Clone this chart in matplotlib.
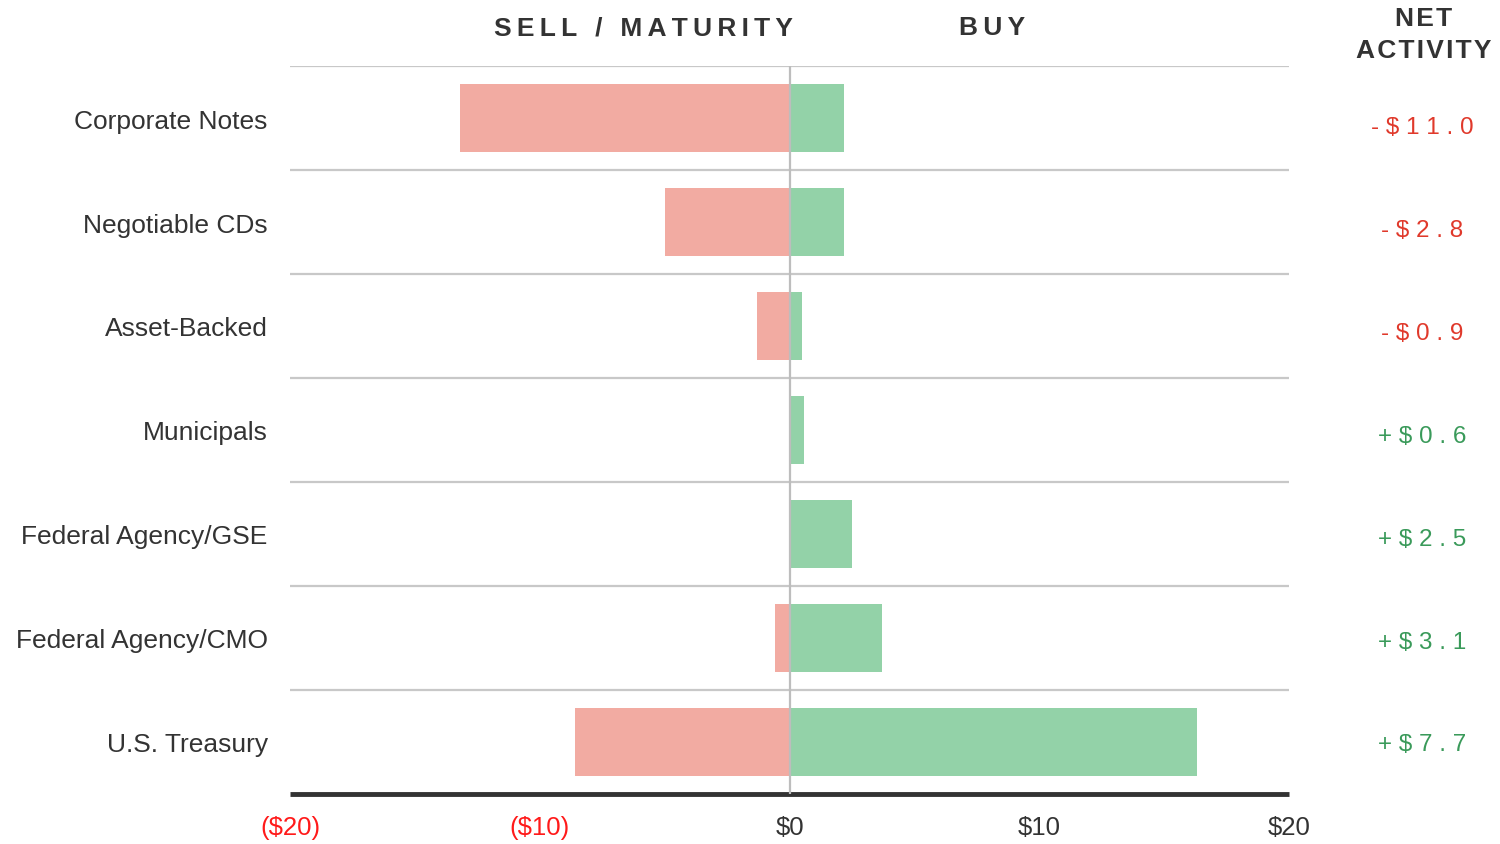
import matplotlib.pyplot as plt
import numpy as np

plt.rcParams['font.family'] = ['Liberation Sans', 'DejaVu Sans']

categories = ["Corporate Notes", "Negotiable CDs", "Asset-Backed", "Municipals",
              "Federal Agency/GSE", "Federal Agency/CMO", "U.S. Treasury"]
sell = [-13.2, -5.0, -1.3, 0.0, 0.0, -0.6, -8.6]
buy = [2.2, 2.2, 0.5, 0.6, 2.5, 3.7, 16.3]
net = ["-$11.0", "-$2.8", "-$0.9", "+$0.6", "+$2.5", "+$3.1", "+$7.7"]
ticks = [-20, -10, 0, 10, 20]
tick_labels = ["($20)", "($10)", "$0", "$10", "$20"]

sell_color = "#f2aba2"
buy_color = "#93d2a8"
red = "#e0392b"
green = "#3a9a5a"
dark = "#333333"


def spaced(s, sep="\u2009"):
    return sep.join(list(s))


fig = plt.figure(figsize=(15, 8.45), dpi=100)
ax = fig.add_axes([290 / 1500, 1 - 795 / 845, 999 / 1500, 728 / 845])

y = np.arange(len(categories))
ax.barh(y, sell, height=0.66, color=sell_color, zorder=2)
ax.barh(y, buy, height=0.66, color=buy_color, zorder=2)

ax.set_xlim(-20, 20)
ax.set_ylim(len(categories) - 0.5, -0.5)

# row separators
for b in np.arange(-0.5, len(categories) - 0.5, 1.0):
    ax.axhline(b, color="#c8c8c8", lw=1.6, zorder=1)
ax.axvline(0, color="#bdbdbd", lw=1.6, zorder=3)

for s in ["top", "right", "left"]:
    ax.spines[s].set_visible(False)
ax.spines["bottom"].set_color(dark)
ax.spines["bottom"].set_linewidth(3.5)
ax.spines["bottom"].set_capstyle("butt")

ax.set_yticks(y)
ax.set_yticklabels(categories, fontsize=19, color=dark)
ax.tick_params(axis="y", length=0, pad=16)

ax.set_xticks(ticks)
ax.set_xticklabels(tick_labels, fontsize=18.5)
ax.tick_params(axis="x", length=0, pad=15)
for lbl, t in zip(ax.get_xticklabels(), ticks):
    lbl.set_color("#ff1a1a" if t < 0 else dark)

# column headers
hdr = dict(fontsize=19, fontweight="bold", color=dark, ha="center", va="center")
fig.text(643 / 1500, 1 - 28 / 845, spaced("SELL / MATURITY"), **hdr)
fig.text(992 / 1500, 1 - 28 / 845, spaced("BUY"), **hdr)
fig.text(1424 / 1500, 1 - 19 / 845, spaced("NET", "\u200a"), **hdr)
fig.text(1424 / 1500, 1 - 51 / 845, spaced("ACTIVITY", "\u200a"), **hdr)

# net activity column (sits a little below each row centre)
trans = ax.get_yaxis_transform()
for yi, n in zip(y, net):
    c = red if n.startswith("-") else green
    ax.text((1422 - 290) / 999, yi + 0.09 - 0.011 * yi, spaced(n, " "),
            transform=trans, fontsize=17.5, color=c, ha="center", va="center",
            clip_on=False)

fig.savefig("out.png", dpi=100)
